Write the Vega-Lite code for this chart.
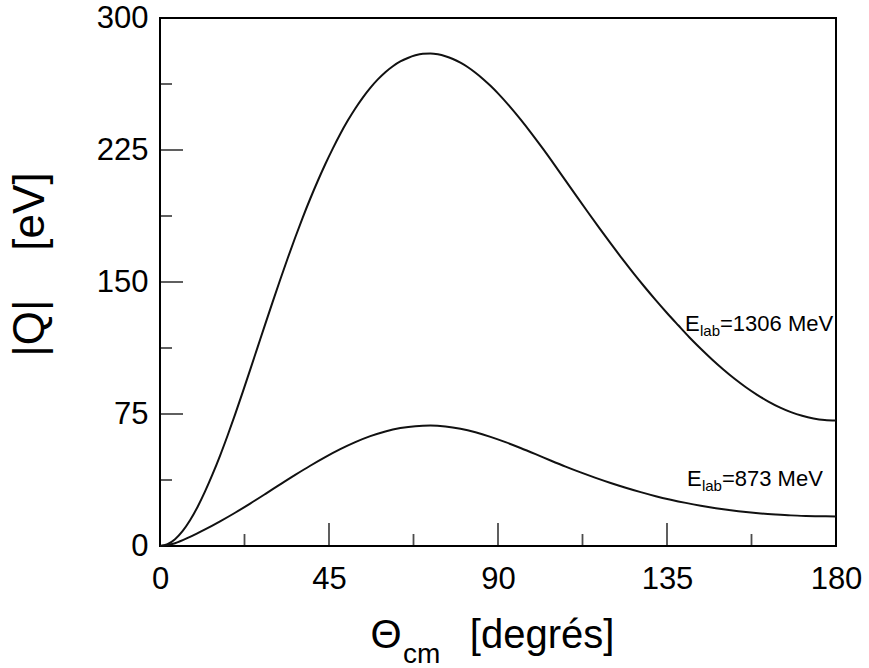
{
  "$schema": "https://vega.github.io/schema/vega-lite/v6.json",
  "width": 676,
  "height": 528,
  "autosize": "none",
  "padding": {"left": 160, "top": 18, "right": 33, "bottom": 122},
  "background": "white",
  "config": {
    "view": {"stroke": "black", "strokeWidth": 2},
    "font": "Liberation Sans"
  },
  "datasets": {
    "curves": [
      {"series": "1306", "theta": 0, "Q": 0},
      {"series": "1306", "theta": 2, "Q": 1},
      {"series": "1306", "theta": 4, "Q": 3.8},
      {"series": "1306", "theta": 6, "Q": 8.4},
      {"series": "1306", "theta": 8, "Q": 14.6},
      {"series": "1306", "theta": 10, "Q": 22.2},
      {"series": "1306", "theta": 12, "Q": 31},
      {"series": "1306", "theta": 14, "Q": 40.8},
      {"series": "1306", "theta": 16, "Q": 51.4},
      {"series": "1306", "theta": 18, "Q": 62.8},
      {"series": "1306", "theta": 20, "Q": 74.8},
      {"series": "1306", "theta": 22, "Q": 87.3},
      {"series": "1306", "theta": 24, "Q": 100.1},
      {"series": "1306", "theta": 26, "Q": 113},
      {"series": "1306", "theta": 28, "Q": 125.9},
      {"series": "1306", "theta": 30, "Q": 138.7},
      {"series": "1306", "theta": 32, "Q": 151.3},
      {"series": "1306", "theta": 34, "Q": 163.5},
      {"series": "1306", "theta": 36, "Q": 175.3},
      {"series": "1306", "theta": 38, "Q": 186.6},
      {"series": "1306", "theta": 40, "Q": 197.3},
      {"series": "1306", "theta": 42, "Q": 207.4},
      {"series": "1306", "theta": 44, "Q": 216.9},
      {"series": "1306", "theta": 46, "Q": 225.8},
      {"series": "1306", "theta": 48, "Q": 234.1},
      {"series": "1306", "theta": 50, "Q": 241.7},
      {"series": "1306", "theta": 52, "Q": 248.6},
      {"series": "1306", "theta": 54, "Q": 254.8},
      {"series": "1306", "theta": 56, "Q": 260.3},
      {"series": "1306", "theta": 58, "Q": 265.1},
      {"series": "1306", "theta": 60, "Q": 269.2},
      {"series": "1306", "theta": 62, "Q": 272.6},
      {"series": "1306", "theta": 64, "Q": 275.3},
      {"series": "1306", "theta": 66, "Q": 277.3},
      {"series": "1306", "theta": 68, "Q": 278.8},
      {"series": "1306", "theta": 70, "Q": 279.7},
      {"series": "1306", "theta": 72, "Q": 279.9},
      {"series": "1306", "theta": 74, "Q": 279.4},
      {"series": "1306", "theta": 76, "Q": 278.3},
      {"series": "1306", "theta": 78, "Q": 276.7},
      {"series": "1306", "theta": 80, "Q": 274.6},
      {"series": "1306", "theta": 82, "Q": 272},
      {"series": "1306", "theta": 84, "Q": 268.9},
      {"series": "1306", "theta": 86, "Q": 265.4},
      {"series": "1306", "theta": 88, "Q": 261.5},
      {"series": "1306", "theta": 90, "Q": 257.2},
      {"series": "1306", "theta": 93, "Q": 250.1},
      {"series": "1306", "theta": 96, "Q": 242.4},
      {"series": "1306", "theta": 99, "Q": 234.2},
      {"series": "1306", "theta": 102, "Q": 225.6},
      {"series": "1306", "theta": 105, "Q": 216.7},
      {"series": "1306", "theta": 108, "Q": 207.6},
      {"series": "1306", "theta": 111, "Q": 198.5},
      {"series": "1306", "theta": 114, "Q": 189.5},
      {"series": "1306", "theta": 117, "Q": 180.6},
      {"series": "1306", "theta": 120, "Q": 171.9},
      {"series": "1306", "theta": 123, "Q": 163.4},
      {"series": "1306", "theta": 126, "Q": 155.2},
      {"series": "1306", "theta": 129, "Q": 147.3},
      {"series": "1306", "theta": 132, "Q": 139.7},
      {"series": "1306", "theta": 135, "Q": 132.4},
      {"series": "1306", "theta": 138, "Q": 125.4},
      {"series": "1306", "theta": 141, "Q": 118.5},
      {"series": "1306", "theta": 144, "Q": 112.1},
      {"series": "1306", "theta": 147, "Q": 106},
      {"series": "1306", "theta": 150, "Q": 100.3},
      {"series": "1306", "theta": 153, "Q": 95},
      {"series": "1306", "theta": 156, "Q": 90.2},
      {"series": "1306", "theta": 159, "Q": 85.9},
      {"series": "1306", "theta": 162, "Q": 82.1},
      {"series": "1306", "theta": 165, "Q": 78.8},
      {"series": "1306", "theta": 168, "Q": 76.1},
      {"series": "1306", "theta": 171, "Q": 74},
      {"series": "1306", "theta": 174, "Q": 72.5},
      {"series": "1306", "theta": 177, "Q": 71.6},
      {"series": "1306", "theta": 180, "Q": 71.3},
      {"series": "873", "theta": 0, "Q": 0},
      {"series": "873", "theta": 4, "Q": 1.6},
      {"series": "873", "theta": 8, "Q": 5.2},
      {"series": "873", "theta": 12, "Q": 9.4},
      {"series": "873", "theta": 16, "Q": 14},
      {"series": "873", "theta": 20, "Q": 18.9},
      {"series": "873", "theta": 24, "Q": 24.1},
      {"series": "873", "theta": 28, "Q": 29.5},
      {"series": "873", "theta": 32, "Q": 35},
      {"series": "873", "theta": 36, "Q": 40.4},
      {"series": "873", "theta": 40, "Q": 45.6},
      {"series": "873", "theta": 44, "Q": 50.5},
      {"series": "873", "theta": 48, "Q": 55},
      {"series": "873", "theta": 52, "Q": 59},
      {"series": "873", "theta": 56, "Q": 62.4},
      {"series": "873", "theta": 60, "Q": 65.1},
      {"series": "873", "theta": 64, "Q": 67},
      {"series": "873", "theta": 68, "Q": 68.1},
      {"series": "873", "theta": 72, "Q": 68.4},
      {"series": "873", "theta": 76, "Q": 67.9},
      {"series": "873", "theta": 80, "Q": 66.6},
      {"series": "873", "theta": 84, "Q": 64.6},
      {"series": "873", "theta": 88, "Q": 62},
      {"series": "873", "theta": 92, "Q": 59},
      {"series": "873", "theta": 96, "Q": 55.7},
      {"series": "873", "theta": 100, "Q": 52.2},
      {"series": "873", "theta": 104, "Q": 48.6},
      {"series": "873", "theta": 108, "Q": 45.1},
      {"series": "873", "theta": 112, "Q": 41.8},
      {"series": "873", "theta": 116, "Q": 38.7},
      {"series": "873", "theta": 120, "Q": 35.8},
      {"series": "873", "theta": 124, "Q": 33.1},
      {"series": "873", "theta": 128, "Q": 30.6},
      {"series": "873", "theta": 132, "Q": 28.3},
      {"series": "873", "theta": 136, "Q": 26.3},
      {"series": "873", "theta": 140, "Q": 24.5},
      {"series": "873", "theta": 144, "Q": 22.9},
      {"series": "873", "theta": 148, "Q": 21.5},
      {"series": "873", "theta": 152, "Q": 20.3},
      {"series": "873", "theta": 156, "Q": 19.3},
      {"series": "873", "theta": 160, "Q": 18.5},
      {"series": "873", "theta": 164, "Q": 17.9},
      {"series": "873", "theta": 168, "Q": 17.4},
      {"series": "873", "theta": 172, "Q": 17.1},
      {"series": "873", "theta": 176, "Q": 16.9},
      {"series": "873", "theta": 180, "Q": 16.8}
    ],
    "xMajor": [{"v": 45}, {"v": 90}, {"v": 135}],
    "xMinor": [{"v": 22.5}, {"v": 67.5}, {"v": 112.5}, {"v": 157.5}],
    "yMajor": [{"v": 75}, {"v": 150}, {"v": 225}],
    "yMinor": [{"v": 37.5}, {"v": 112.5}, {"v": 187.5}, {"v": 262.5}],
    "labels": [
      {"theta": 139.8, "Q": 122.2, "e": "E", "sub": "lab", "rest": "=1306 MeV"},
      {"theta": 140.3, "Q": 34.1, "e": "E", "sub": "lab", "rest": "=873 MeV"}
    ]
  },
  "layer": [
    {
      "data": {"name": "curves"},
      "mark": {"type": "line", "color": "#111111", "strokeWidth": 2, "interpolate": "monotone"},
      "encoding": {
        "x": {
          "field": "theta", "type": "quantitative",
          "scale": {"domain": [0, 180], "nice": false, "zero": false},
          "axis": {
            "values": [0, 45, 90, 135, 180], "ticks": false, "domain": false, "grid": false,
            "labelFontSize": 31, "labelColor": "black", "labelFont": "Liberation Sans",
            "labelPadding": 18, "labelFlush": false, "title": null
          }
        },
        "y": {
          "field": "Q", "type": "quantitative",
          "scale": {"domain": [0, 300], "nice": false},
          "axis": {
            "values": [0, 75, 150, 225, 300], "ticks": false, "domain": false, "grid": false,
            "labelFontSize": 31, "labelColor": "black", "labelFont": "Liberation Sans",
            "labelPadding": 12, "labelFlush": false,
            "title": "|Q|\u00a0\u00a0\u00a0\u00a0[eV]", "titleFontSize": 44, "titleFontWeight": "normal",
            "titleColor": "black", "titleFont": "Liberation Sans", "titlePadding": 44,
            "titleY": 246
          }
        },
        "detail": {"field": "series", "type": "nominal"}
      }
    },
    {
      "data": {"name": "xMajor"},
      "mark": {"type": "tick", "orient": "vertical", "size": 23, "thickness": 1.8, "yOffset": -11.5, "color": "black"},
      "encoding": {"x": {"field": "v", "type": "quantitative"}, "y": {"datum": 0, "type": "quantitative"}}
    },
    {
      "data": {"name": "xMinor"},
      "mark": {"type": "tick", "orient": "vertical", "size": 12, "thickness": 1.8, "yOffset": -6, "color": "black"},
      "encoding": {"x": {"field": "v", "type": "quantitative"}, "y": {"datum": 0, "type": "quantitative"}}
    },
    {
      "data": {"name": "yMajor"},
      "mark": {"type": "tick", "orient": "horizontal", "size": 23, "thickness": 1.8, "xOffset": 11.5, "color": "black"},
      "encoding": {"y": {"field": "v", "type": "quantitative"}, "x": {"datum": 0, "type": "quantitative"}}
    },
    {
      "data": {"name": "yMinor"},
      "mark": {"type": "tick", "orient": "horizontal", "size": 12, "thickness": 1.8, "xOffset": 6, "color": "black"},
      "encoding": {"y": {"field": "v", "type": "quantitative"}, "x": {"datum": 0, "type": "quantitative"}}
    },
    {
      "data": {"name": "labels"},
      "mark": {"type": "text", "align": "left", "baseline": "alphabetic", "fontSize": 22, "color": "black"},
      "encoding": {"x": {"field": "theta", "type": "quantitative"}, "y": {"field": "Q", "type": "quantitative"}, "text": {"field": "e"}}
    },
    {
      "data": {"name": "labels"},
      "mark": {"type": "text", "align": "left", "baseline": "alphabetic", "fontSize": 15, "dx": 15, "dy": 5, "color": "black"},
      "encoding": {"x": {"field": "theta", "type": "quantitative"}, "y": {"field": "Q", "type": "quantitative"}, "text": {"field": "sub"}}
    },
    {
      "data": {"name": "labels"},
      "mark": {"type": "text", "align": "left", "baseline": "alphabetic", "fontSize": 22, "dx": 35, "color": "black"},
      "encoding": {"x": {"field": "theta", "type": "quantitative"}, "y": {"field": "Q", "type": "quantitative"}, "text": {"field": "rest"}}
    },
    {
      "data": {"values": [{}]},
      "mark": {"type": "text", "align": "center", "baseline": "alphabetic", "fontSize": 40, "color": "black", "text": "Θ"},
      "encoding": {"x": {"datum": 60.2, "type": "quantitative"}, "y": {"datum": -58, "type": "quantitative"}}
    },
    {
      "data": {"values": [{}]},
      "mark": {"type": "text", "align": "left", "baseline": "alphabetic", "fontSize": 28, "color": "black", "text": "cm"},
      "encoding": {"x": {"datum": 64.7, "type": "quantitative"}, "y": {"datum": -66.5, "type": "quantitative"}}
    },
    {
      "data": {"values": [{}]},
      "mark": {"type": "text", "align": "left", "baseline": "alphabetic", "fontSize": 40, "color": "black", "text": "[degrés]"},
      "encoding": {"x": {"datum": 82.5, "type": "quantitative"}, "y": {"datum": -58, "type": "quantitative"}}
    }
  ]
}
